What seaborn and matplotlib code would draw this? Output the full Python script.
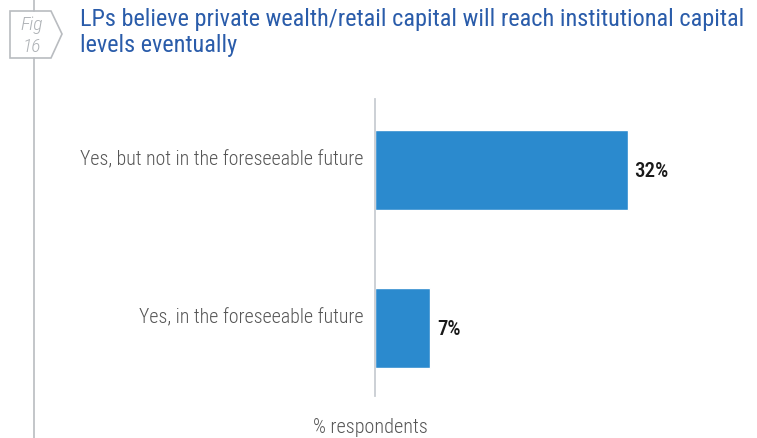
import matplotlib
matplotlib.use("Agg")
import matplotlib.pyplot as plt
from matplotlib.patches import Polygon
from matplotlib.lines import Line2D
from matplotlib.transforms import ScaledTranslation
import seaborn as sns
import pandas as pd

categories = ["Yes, but not in the foreseeable future", "Yes, in the foreseeable future"]
values = [32, 7]
value_labels = ["32%", "7%"]
title = "LPs believe private wealth/retail capital will reach institutional capital\nlevels eventually"
xlabel = "% respondents"

sns.set_theme(style="white")
plt.rcParams["font.family"] = ["Roboto Condensed", "DejaVu Sans"]

df = pd.DataFrame({"category": categories, "value": values})

W, H = 757, 439
fig = plt.figure(figsize=(W / 100, H / 100), dpi=100)
ax = fig.add_axes([375 / W, 1 - 397 / H, (754 - 375) / W, (397 - 100) / H])

sns.barplot(data=df, x="value", y="category", orient="h", color="#2b8ace",
            saturation=1, width=0.506, ax=ax)
ax.set_xlim(0, 48)
ax.set_ylim(1.43, -0.45)

for i, (v, lab) in enumerate(zip(values, value_labels)):
    ax.text(v + 0.85, i, lab, va="center", ha="left", fontsize=15,
            fontweight="medium", color="#1a1a1a")

ax.set_xticks([])
ax.set_ylabel("")
ax.set_xlabel("")
ax.tick_params(axis="y", length=0, pad=8, labelsize=14.3, labelcolor="#555555")
# category labels sit a little above the bar centre line
lift = ScaledTranslation(0, 0.135, fig.dpi_scale_trans)
for lbl in ax.get_yticklabels():
    lbl.set_fontweight("light")
    lbl.set_transform(lbl.get_transform() + lift)
for s in ["top", "right", "bottom"]:
    ax.spines[s].set_visible(False)
ax.spines["left"].set_color("#c8cdd2")
ax.spines["left"].set_linewidth(1.3)

fig.text(370 / W, 1 - 428 / H, xlabel, ha="center", va="center",
         fontsize=14.5, color="#555555", fontweight="light")

# title
fig.text(80 / W, 1 - 8 / H, title, ha="left", va="top", fontsize=17.5,
         color="#2a5caa", linespacing=1.15)

# left rule and figure tag
gray = "#b9bcc0"
fig.add_artist(Line2D([34 / W, 34 / W], [1, 1 - 12 / H], color=gray, lw=1.2,
                      transform=fig.transFigure))
fig.add_artist(Line2D([34 / W, 34 / W], [1 - 59 / H, 0], color=gray, lw=1.2,
                      transform=fig.transFigure))
pts = [(10, 12), (51, 12), (62, 35), (51, 59), (10, 59)]
fig.add_artist(Polygon([(x / W, 1 - y / H) for x, y in pts], closed=True,
                       fill=False, edgecolor=gray, lw=1.2,
                       transform=fig.transFigure))
fig.text(32 / W, 1 - 25 / H, "Fig", ha="center", va="center", fontsize=14,
         style="italic", color="#aeb2b6", fontweight="light")
fig.text(32 / W, 1 - 47 / H, "16", ha="center", va="center", fontsize=14,
         style="italic", color="#aeb2b6", fontweight="light")

fig.savefig("out.png", dpi=100)
